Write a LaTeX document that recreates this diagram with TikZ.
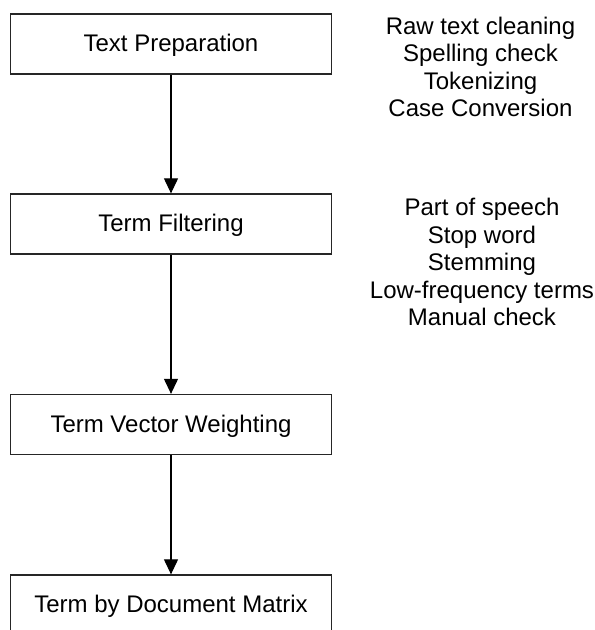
\documentclass[tikz,border=0pt]{standalone}
\usepackage{fontspec}
\setmainfont{Liberation Sans}
\usetikzlibrary{arrows.meta}

\begin{document}
\begin{tikzpicture}[x=1pt,y=-1pt,
    stagebox/.style={draw=black!85,line width=1.3pt,minimum width=321pt,minimum height=60pt,
        inner sep=0pt,text depth=2pt,font=\fontsize{24}{27.5}\selectfont},
    notes/.style={align=center,anchor=north,inner sep=0pt,font=\fontsize{24}{27.5}\selectfont},
    flow/.style={line width=1.1pt,-{Triangle[width=14pt,length=15pt]}}]
            \useasboundingbox (0,0) rectangle (595,630);

            \node[stagebox] (prep) at (171,44) {Text Preparation};
            \node[stagebox] (filter) at (171,224) {Term Filtering};
            \node[stagebox] (weight) at (171,424.5) {Term Vector Weighting};
            \node[stagebox] (matrix) at (171,605) {Term by Document Matrix};

            \draw[flow] (prep) -- (filter);
            \draw[flow] (filter) -- (weight);
            \draw[flow] (weight) -- (matrix);

            \node[notes] (prepnotes) at (480.5,16.5) {Raw text cleaning\\Spelling check\\Tokenizing\\Case Conversion};
            \node[notes] (filternotes) at (482,198) {Part of speech\\Stop word\\Stemming\\Low-frequency terms\\Manual check};
        \end{tikzpicture}
\end{document}
